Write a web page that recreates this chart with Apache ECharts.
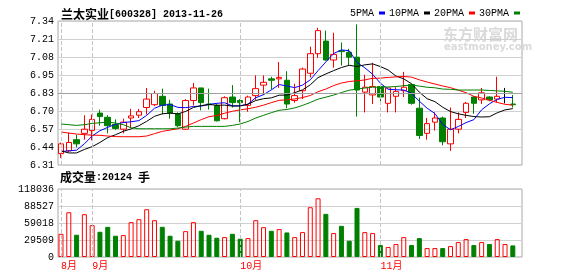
<!DOCTYPE html>
<html><head><meta charset="utf-8">
<script src="https://cdn.jsdelivr.net/npm/echarts@6/dist/echarts.min.js"></script>
<style>html,body{margin:0;padding:0;background:#fff}#c{width:578px;height:276px}</style>
</head><body><div id="c"></div>
<script>
const stockName = '兰太实业';
const stockCode = '[600328]';
const tradeDate = '2013-11-26';
const volLabel = '成交量';
const volUnit = '手';

const dates = [
 '2013-08-27','2013-08-28','2013-08-29','2013-08-30',
 '2013-09-02','2013-09-03','2013-09-04','2013-09-05','2013-09-06',
 '2013-09-09','2013-09-10','2013-09-11','2013-09-12','2013-09-13',
 '2013-09-16','2013-09-17','2013-09-18',
 '2013-09-23','2013-09-24','2013-09-25','2013-09-26','2013-09-27','2013-09-30',
 '2013-10-08','2013-10-09','2013-10-10','2013-10-11',
 '2013-10-14','2013-10-15','2013-10-16','2013-10-17','2013-10-18',
 '2013-10-21','2013-10-22','2013-10-23','2013-10-24','2013-10-25',
 '2013-10-28','2013-10-29','2013-10-30','2013-10-31',
 '2013-11-01','2013-11-04','2013-11-05','2013-11-06','2013-11-07','2013-11-08',
 '2013-11-11','2013-11-12','2013-11-13','2013-11-14','2013-11-15',
 '2013-11-18','2013-11-19','2013-11-20','2013-11-21','2013-11-22',
 '2013-11-25','2013-11-26'
];
const opens = [6.39,6.41,6.49,6.535,6.555,6.68,6.65,6.60,6.565,6.645,
 6.665,6.72,6.74,6.80,6.745,6.675,6.565,6.77,6.86,6.745,
 6.735,6.64,6.795,6.77,6.735,6.805,6.88,6.925,6.925,6.915,
 6.77,6.84,6.965,7.105,7.195,7.06,7.125,7.115,7.08,6.83,
 6.81,6.87,6.75,6.80,6.84,6.885,6.715,6.535,6.615,6.645,
 6.46,6.565,6.685,6.795,6.775,6.795,6.78,6.82,6.745];
const closes = [6.46,6.47,6.46,6.565,6.635,6.655,6.59,6.57,6.615,6.66,
 6.69,6.78,6.82,6.735,6.68,6.59,6.77,6.86,6.755,6.74,
 6.625,6.79,6.755,6.755,6.795,6.855,6.90,6.915,6.935,6.745,
 6.805,6.995,7.105,7.27,7.06,7.10,7.12,7.08,6.845,6.865,
 6.87,6.795,6.86,6.835,6.865,6.75,6.52,6.605,6.645,6.475,
 6.565,6.635,6.75,6.75,6.825,6.775,6.80,6.82,6.74];
const lows = [6.36,6.40,6.435,6.49,6.485,6.59,6.535,6.56,6.535,6.575,
 6.645,6.67,6.73,6.67,6.64,6.58,6.56,6.735,6.70,6.705,
 6.62,6.635,6.72,6.615,6.69,6.775,6.81,6.85,6.86,6.715,
 6.755,6.78,6.935,7.075,7.055,7.005,7.02,7.02,6.655,6.685,
 6.745,6.75,6.685,6.685,6.795,6.74,6.495,6.49,6.555,6.45,
 6.41,6.535,6.645,6.675,6.745,6.765,6.755,6.75,6.72];
const highs = [6.47,6.54,6.525,6.665,6.67,6.705,6.665,6.635,6.64,6.71,
 6.71,6.86,6.84,6.855,6.775,6.685,6.78,6.895,6.86,6.855,
 6.75,6.80,6.88,6.78,6.805,6.95,6.95,6.94,7.045,6.98,
 6.89,7.005,7.155,7.29,7.27,7.255,7.185,7.14,7.315,6.955,
 7.04,6.875,6.86,6.865,6.975,6.89,6.79,6.645,6.685,6.655,
 6.72,6.685,6.76,6.80,6.86,6.80,6.94,6.86,6.81];
const volumes = [40300,77700,38600,74300,55300,43800,52400,36900,38000,60500,
 65600,82900,63900,52400,36900,28200,44900,60500,45500,38600,
 33400,34500,40300,31700,32800,63900,51800,45500,48400,42600,
 34500,43200,86400,101900,74900,41500,54100,28200,85200,43200,
 41500,20700,17300,22500,34500,20700,32800,15500,15500,15500,
 19000,25900,31100,20700,25900,22500,31100,22500,20124];
const ma5 = [6.405,6.41,6.415,6.46,6.516,6.554,6.578,6.60,6.612,6.618,
 6.626,6.664,6.714,6.737,6.741,6.721,6.719,6.727,6.73,6.742,
 6.75,6.754,6.732,6.732,6.744,6.79,6.812,6.846,6.884,6.874,
 6.862,6.88,6.918,6.984,7.046,7.106,7.132,7.126,7.042,7.004,
 6.958,6.894,6.85,6.847,6.845,6.821,6.765,6.715,6.677,6.599,
 6.561,6.584,6.612,6.633,6.704,6.746,6.779,6.793,6.791];
const ma10 = [6.41,6.395,6.395,6.42,6.44,6.47,6.505,6.525,6.55,6.567,
 6.59,6.621,6.657,6.675,6.68,6.674,6.692,6.72,6.734,6.742,
 6.736,6.737,6.73,6.731,6.743,6.77,6.783,6.789,6.808,6.809,
 6.826,6.846,6.882,6.934,6.96,6.984,7.006,7.022,7.013,7.025,
 7.032,7.013,6.988,6.945,6.925,6.89,6.83,6.783,6.762,6.722,
 6.691,6.675,6.664,6.655,6.652,6.654,6.682,6.703,6.712];
const ma20 = [6.545,6.537,6.53,6.526,6.522,6.521,6.516,6.512,6.511,6.511,
 6.511,6.516,6.533,6.549,6.559,6.568,6.585,6.609,6.633,6.654,
 6.663,6.679,6.693,6.703,6.711,6.722,6.737,6.755,6.771,6.775,
 6.781,6.791,6.806,6.833,6.852,6.877,6.895,6.906,6.911,6.917,
 6.929,6.93,6.935,6.939,6.942,6.937,6.918,6.902,6.888,6.874,
 6.862,6.844,6.826,6.80,6.788,6.772,6.756,6.743,6.737];
const ma30 = [6.602,6.597,6.592,6.597,6.606,6.611,6.616,6.609,6.597,6.575,
 6.568,6.568,6.568,6.568,6.568,6.573,6.58,6.585,6.585,6.585,
 6.585,6.585,6.592,6.602,6.62,6.645,6.664,6.683,6.70,6.706,
 6.717,6.735,6.756,6.78,6.794,6.809,6.827,6.844,6.852,6.859,
 6.865,6.865,6.867,6.87,6.876,6.881,6.873,6.865,6.861,6.852,
 6.85,6.845,6.845,6.845,6.845,6.842,6.839,6.836,6.829];
const maNames = ['5PMA','10PMA','20PMA','30PMA'];
const priceTickLabels = ['6.31','6.44','6.57','6.70','6.83','6.95','7.08','7.21','7.34'];
const volumeTickLabels = ['0','29509','59018','88527','118036'];
const monthLabels = ['8月','9月','10月','11月'];

const RED = '#ff0000', GREEN = '#008000', BLUE = '#0000ff', BLACK = '#000000';
const MONO = "'Liberation Mono','DejaVu Sans Mono',monospace";
const CJK = "'Noto Sans CJK SC','Noto Sans',sans-serif";
const MONOCJK = "'Liberation Mono','Noto Sans CJK SC',monospace";

const PSTEP = 0.12875;
const PMIN = +(49 * PSTEP).toFixed(5);
const PMAX = +(57 * PSTEP).toFixed(5);
const VSTEP = 29509;
const VMAX = 4 * VSTEP;
const XMIN = -0.385, XMAX = 59.18;

const N = dates.length;
const monthIdx = [];
dates.forEach((d, i) => { if (i === 0 || d.slice(5, 7) !== dates[i - 1].slice(5, 7)) monthIdx.push(i); });

function isUp(i) {
  if (closes[i] !== opens[i]) return closes[i] > opens[i];
  return i === 0 || closes[i] >= closes[i - 1];
}
const candleData = dates.map((d, i) => {
  const item = { value: [i, opens[i], closes[i], lows[i], highs[i]] };
  if (opens[i] === closes[i]) item.itemStyle = { color: BLACK, color0: BLACK, borderColor: BLACK, borderColor0: BLACK };
  return item;
});
const volData = volumes.map((v, i) => ({
  value: [i, v],
  itemStyle: isUp(i) ? { color: 'rgba(0,0,0,0)', borderColor: RED, borderWidth: 1 }
                     : { color: GREEN, borderColor: GREEN, borderWidth: 1 }
}));
const toXY = arr => arr.map((v, i) => [i, v]);
const monthMarks = monthIdx.map(i => ({ xAxis: i }));
const dashStyle = { color: '#c4c4c4', type: [4, 2], width: 1 };

const maSeries = [ma5, ma10, ma20, ma30].map((arr, k) => ({
  name: maNames[k], type: 'line', xAxisIndex: 0, yAxisIndex: 0,
  data: toXY(arr), symbol: 'none', showSymbol: false, smooth: false,
  lineStyle: { width: 1, color: [BLUE, BLACK, RED, GREEN][k] },
  itemStyle: { color: [BLUE, BLACK, RED, GREEN][k] },
  z: 3, silent: true
}));

const chart = echarts.init(document.getElementById('c'), null, { renderer: 'canvas' });
chart.setOption({
  animation: false,
  backgroundColor: '#ffffff',
  title: [
    { text: '{a|' + stockName + '}{b|' + stockCode + ' ' + tradeDate + '}', left: 61, top: 7, padding: 0,
      textStyle: { rich: { a: { fontFamily: CJK, fontSize: 12, color: BLACK, lineHeight: 14 },
                           b: { fontFamily: MONO, fontSize: 10, color: BLACK, lineHeight: 14 } } } },
    { text: '{a|' + volLabel + '}{b|:' + volumes[N - 1] + ' }{a|' + volUnit + '}', left: 60, top: 170, padding: 0,
      textStyle: { rich: { a: { fontFamily: CJK, fontSize: 12, color: BLACK, lineHeight: 14 },
                           b: { fontFamily: MONO, fontSize: 10, color: BLACK, lineHeight: 14 } } } }
  ],
  legend: {
    data: maNames, right: 58, top: 8, padding: 0, itemGap: 4, itemWidth: 6, itemHeight: 3,
    icon: 'rect', align: 'right', selectedMode: false,
    textStyle: { fontFamily: MONO, fontSize: 10, color: BLACK }
  },
  graphic: [
    { type: 'text', left: 443, top: 27, z: 0, silent: true,
      style: { text: '东方财富网', font: "bold 15px 'Noto Sans CJK SC'", fill: '#dadada' } },
    { type: 'text', left: 444, top: 42, z: 0, silent: true,
      style: { text: 'eastmoney.com', font: "bold 10px 'DejaVu Sans'", fill: '#dadada' } }
  ],
  grid: [
    { left: 58, top: 21, width: 464, height: 144, show: true, borderColor: '#a8a8a8', borderWidth: 1, backgroundColor: 'transparent' },
    { left: 58, top: 189, width: 464, height: 68, show: true, borderColor: '#a8a8a8', borderWidth: 1, backgroundColor: 'transparent' }
  ],
  xAxis: [
    { type: 'value', gridIndex: 0, min: XMIN, max: XMAX, axisLine: { show: false }, axisTick: { show: false },
      axisLabel: { show: false }, splitLine: { show: false } },
    { type: 'value', gridIndex: 1, min: XMIN, max: XMAX, axisLine: { show: false }, axisTick: { show: false },
      splitLine: { show: false },
      axisLabel: { show: true, customValues: monthIdx, align: 'left', margin: 4, color: RED,
        fontFamily: MONOCJK, fontSize: 10,
        formatter: v => { const k = monthIdx.indexOf(Math.round(v)); return k >= 0 ? monthLabels[k] : ''; } } }
  ],
  yAxis: [
    { type: 'value', gridIndex: 0, min: PMIN, max: PMAX, interval: PSTEP, scale: true,
      axisLine: { show: false }, axisTick: { show: false },
      axisLabel: { margin: 4, color: BLACK, fontFamily: MONO, fontSize: 10,
        formatter: v => priceTickLabels[Math.round((v - PMIN) / PSTEP)] || '' },
      splitLine: { show: true, lineStyle: { color: '#d0d0d0', width: 1 } } },
    { type: 'value', gridIndex: 1, min: 0, max: VMAX, interval: VSTEP,
      axisLine: { show: false }, axisTick: { show: false },
      axisLabel: { margin: 4, color: BLACK, fontFamily: MONO, fontSize: 10,
        formatter: v => volumeTickLabels[Math.round(v / VSTEP)] || '' },
      splitLine: { show: true, lineStyle: { color: '#d0d0d0', width: 1 } } }
  ],
  series: [
    { name: 'K', type: 'candlestick', xAxisIndex: 0, yAxisIndex: 0, data: candleData,
      encode: { x: 0, y: [1, 2, 3, 4] }, barWidth: 6, silent: true, z: 2,
      itemStyle: { color: 'rgba(0,0,0,0)', color0: GREEN, borderColor: RED, borderColor0: GREEN, borderWidth: 1 },
      markLine: { silent: true, symbol: ['none', 'none'], label: { show: false },
        data: [{ yAxis: PMIN + 4 * PSTEP, lineStyle: { color: '#a0a0a0', type: 'solid', width: 1 } }]
          .concat(monthMarks.map(m => Object.assign({ lineStyle: dashStyle }, m))) } }
  ].concat(maSeries).concat([
    { name: 'VOL', type: 'bar', xAxisIndex: 1, yAxisIndex: 1, data: volData, barWidth: 5, silent: true,
      markLine: { silent: true, symbol: ['none', 'none'], label: { show: false }, lineStyle: dashStyle,
        data: monthMarks } }
  ])
});
</script></body></html>
